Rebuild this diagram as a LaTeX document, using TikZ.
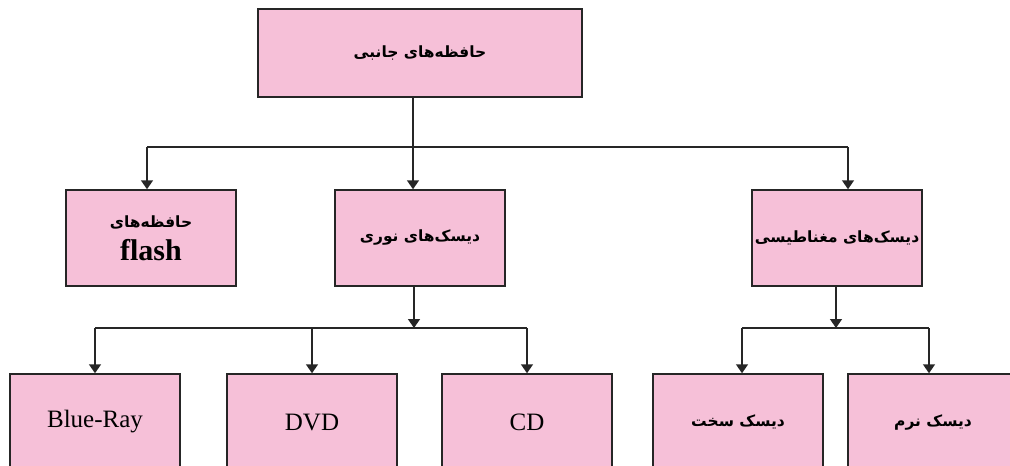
\documentclass[tikz,border=0pt]{standalone}
\usepackage{fontspec}
\setmainfont{Liberation Serif}
\newfontfamily\fa[Script=Arabic]{DejaVu Sans}
\TeXXeTstate=1
\usetikzlibrary{arrows.meta}
\definecolor{boxpink}{HTML}{F6C0D8}
\definecolor{edge}{HTML}{262626}
\tikzset{
  box/.style={draw=edge, fill=boxpink, line width=1.5pt, inner sep=0pt,
    minimum width=170pt, minimum height=96pt, align=center},
  fatext/.style={font=\fa\bfseries\fontsize{15.5}{33}\selectfont},
  latext/.style={font=\fontsize{25}{28}\selectfont},
  conn/.style={draw=edge, line width=1.5pt},
  arr/.style={conn, -{Triangle[width=12pt,length=9pt]}}
}
\begin{document}
\begin{tikzpicture}[x=1pt,y=-1pt]
\useasboundingbox (0,0) rectangle (1010,466);
\begin{scope}
\clip (0,0) rectangle (1010,466);
% top
\node[box, minimum width=324pt, minimum height=88pt, fatext] (top) at (420,53) {\beginR حافظه‌های جانبی\endR};
% middle
\node[box, fatext] (flash) at (151,238) {\beginR حافظه‌های\endR\\{\rmfamily\bfseries\fontsize{30}{33}\selectfont flash}};
\node[box, fatext] (optical) at (420,238) {\beginR دیسک‌های نوری\endR};
\node[box, fatext] (magnetic) at (837,238) {\beginR دیسک‌های مغناطیسی\endR};
% bottom
\node[box, latext] (blue) at (95,422) {Blue-Ray};
\node[box, latext] (dvd) at (312,422) {DVD};
\node[box, latext] (cd) at (527,422) {CD};
\node[box, fatext] (hard) at (738,422) {\beginR دیسک سخت\endR};
\node[box, fatext] (soft) at (933,422) {\beginR دیسک نرم\endR};
\end{scope}
% level 1 connectors
\coordinate (a1) at (147,147);
\coordinate (a2) at (413,147);
\coordinate (a3) at (848,147);
\draw[conn] (top.south -| a2) -- (a2);
\draw[conn] (a1) -- (a3);
\draw[arr] (a1) -- (a1 |- flash.north);
\draw[arr] (a2) -- (a2 |- optical.north);
\draw[arr] (a3) -- (a3 |- magnetic.north);
% level 2 optical
\coordinate (b0) at (414,328);
\coordinate (b1) at (95,328);
\coordinate (b2) at (312,328);
\coordinate (b3) at (527,328);
\draw[arr] (optical.south -| b0) -- (b0);
\draw[conn] (b1) -- (b3);
\draw[arr] (b1) -- (b1 |- blue.north);
\draw[arr] (b2) -- (b2 |- dvd.north);
\draw[arr] (b3) -- (b3 |- cd.north);
% level 2 magnetic
\coordinate (c0) at (836,328);
\coordinate (c1) at (742,328);
\coordinate (c2) at (929,328);
\draw[arr] (magnetic.south -| c0) -- (c0);
\draw[conn] (c1) -- (c2);
\draw[arr] (c1) -- (c1 |- hard.north);
\draw[arr] (c2) -- (c2 |- soft.north);
\end{tikzpicture}
\end{document}
